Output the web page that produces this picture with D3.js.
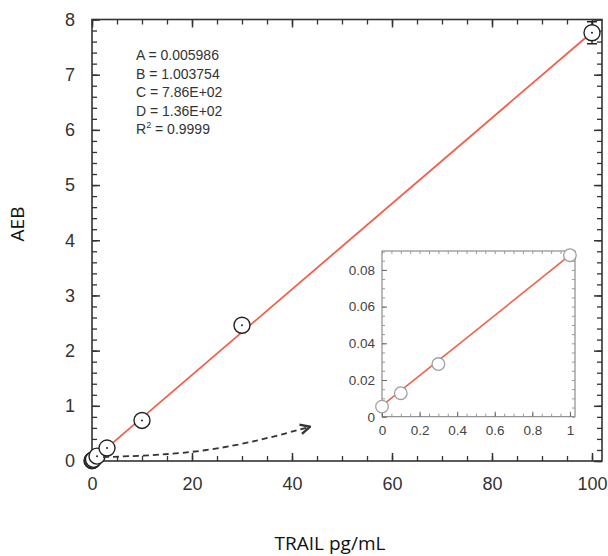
<!DOCTYPE html>
<html>
<head>
<meta charset="utf-8">
<script src="https://cdn.jsdelivr.net/npm/d3@7"></script>
<style>
  body { margin: 0; background: #fff; }
  svg { display: block; }
</style>
</head>
<body>
<div id="chart"></div>
<script>
// standard curve data (TRAIL pg/mL vs AEB)
var conc = [0, 0.1, 0.3, 1, 3, 10, 30, 100];
var aeb = [0.0055, 0.0128, 0.0287, 0.088, 0.235, 0.735, 2.46, 7.76];
var aebErr = [0, 0, 0, 0, 0, 0, 0, 0.2];

// fitted line
var fitX = [0, 100];
var fitY = [0.006, 7.77];

var insetN = 4; // inset shows the first four standards

var fitText = ["A = 0.005986", "B = 1.003754", "C = 7.86E+02", "D = 1.36E+02"];

var xTicks = [0, 20, 40, 60, 80, 100];
var yTicks = [0, 1, 2, 3, 4, 5, 6, 7, 8];
var insetXTicks = [0, 0.2, 0.4, 0.6, 0.8, 1];
var insetYTicks = [0, 0.02, 0.04, 0.06, 0.08];

// arrow from origin cluster towards inset (data units)
var arrowPts = [[2.2, 0.07], [24, 0.14], [43.6, 0.62]];

var W = 608, H = 556;
var red = "#f25f4a";
var axisCol = "#333";

var svg = d3.select("#chart").append("svg")
  .attr("width", W)
  .attr("height", H)
  .style("font-family", "'Liberation Sans', Arial, sans-serif");

var data = conc.map(function(c, i) {
  return {x: c, y: aeb[i], err: aebErr[i]};
});

// ---- main plot
var x = d3.scaleLinear().domain([0, 102]).range([92, 602]);
var y = d3.scaleLinear().domain([0, 8]).range([461, 19.5]);

function range(a, b, s) {
  return d3.range(Math.round((b - a) / s) + 1).map(function(i) { return +(a + i * s).toFixed(6); });
}

var xMinor = range(0, 100, 5);
var yMinor = range(0, 8, 0.2);

var main = svg.append("g");

function styleAxis(g, col, w) {
  g.select(".domain").remove();
  g.selectAll("line").attr("stroke", col).attr("stroke-width", w);
}

// minor ticks on all sides
main.append("g").attr("transform", "translate(0," + y(0) + ")")
  .call(d3.axisBottom(x).tickValues(xMinor).tickSize(-5).tickFormat(""))
  .call(styleAxis, axisCol, 1.3);
main.append("g").attr("transform", "translate(0," + y(8) + ")")
  .call(d3.axisTop(x).tickValues(xMinor).tickSize(-5).tickFormat(""))
  .call(styleAxis, axisCol, 1.3);
main.append("g").attr("transform", "translate(" + x(0) + ",0)")
  .call(d3.axisLeft(y).tickValues(yMinor).tickSize(-5).tickFormat(""))
  .call(styleAxis, axisCol, 1.3);
main.append("g").attr("transform", "translate(" + x(102) + ",0)")
  .call(d3.axisRight(y).tickValues(yMinor).tickSize(-5).tickFormat(""))
  .call(styleAxis, axisCol, 1.3);

// major ticks with labels
var xAx = main.append("g").attr("transform", "translate(0," + y(0) + ")")
  .call(d3.axisBottom(x).tickValues(xTicks).tickSize(-8).tickPadding(16).tickFormat(d3.format("d")))
  .call(styleAxis, axisCol, 1.5);
var yAx = main.append("g").attr("transform", "translate(" + x(0) + ",0)")
  .call(d3.axisLeft(y).tickValues(yTicks).tickSize(-8).tickPadding(17).tickFormat(d3.format("d")))
  .call(styleAxis, axisCol, 1.5);
main.append("g").attr("transform", "translate(0," + y(8) + ")")
  .call(d3.axisTop(x).tickValues(xTicks).tickSize(-8).tickFormat(""))
  .call(styleAxis, axisCol, 1.5);
main.append("g").attr("transform", "translate(" + x(102) + ",0)")
  .call(d3.axisRight(y).tickValues(yTicks).tickSize(-8).tickFormat(""))
  .call(styleAxis, axisCol, 1.5);

[xAx, yAx].forEach(function(g) {
  g.selectAll("text").attr("font-size", 18).attr("fill", "#333")
    .attr("font-family", "'Liberation Sans', Arial, sans-serif");
});

// frame
main.append("rect")
  .attr("x", x(0)).attr("y", y(8))
  .attr("width", x(102) - x(0)).attr("height", y(0) - y(8))
  .attr("fill", "none").attr("stroke", axisCol).attr("stroke-width", 1.6);

// fit line
var line = d3.line().x(function(d) { return x(d[0]); }).y(function(d) { return y(d[1]); });
main.append("path")
  .datum(fitX.map(function(v, i) { return [v, fitY[i]]; }))
  .attr("d", line)
  .attr("fill", "none").attr("stroke", red).attr("stroke-width", 1.8);

// error bars
var eb = main.selectAll(".eb").data(data.filter(function(d) { return d.err > 0; }))
  .enter().append("g").attr("class", "eb");
eb.append("line")
  .attr("x1", function(d) { return x(d.x); }).attr("x2", function(d) { return x(d.x); })
  .attr("y1", function(d) { return y(d.y - d.err); }).attr("y2", function(d) { return y(d.y + d.err); })
  .attr("stroke", "#222").attr("stroke-width", 1.3);
[-1, 1].forEach(function(s) {
  eb.append("line")
    .attr("x1", function(d) { return x(d.x) - 5; }).attr("x2", function(d) { return x(d.x) + 5; })
    .attr("y1", function(d) { return y(d.y + s * d.err); }).attr("y2", function(d) { return y(d.y + s * d.err); })
    .attr("stroke", "#222").attr("stroke-width", 1.5);
});

// points
var pts = main.selectAll(".pt").data(data).enter().append("g").attr("class", "pt");
pts.append("circle")
  .attr("cx", function(d) { return x(d.x); })
  .attr("cy", function(d) { return y(d.y); })
  .attr("r", 8)
  .attr("fill", "#fff").attr("stroke", "#222").attr("stroke-width", 1.4);
pts.append("circle")
  .attr("cx", function(d) { return x(d.x); })
  .attr("cy", function(d) { return y(d.y); })
  .attr("r", 1)
  .attr("fill", "#222");

// fit parameters
var ann = main.append("g").attr("fill", "#333").attr("font-size", 14);
fitText.forEach(function(t, i) {
  ann.append("text").attr("x", 136).attr("y", 60 + i * 18.5).text(t);
});
var r2 = ann.append("text").attr("x", 136).attr("y", 60 + 4 * 18.5);
r2.append("tspan").text("R");
r2.append("tspan").attr("font-size", 9).attr("dy", -6).text("2");
r2.append("tspan").attr("dy", 6).text(" = 0.9999");

// dashed arrow
svg.append("defs").append("marker")
  .attr("id", "arr").attr("viewBox", "0 0 10 10")
  .attr("refX", 9).attr("refY", 5)
  .attr("markerWidth", 12).attr("markerHeight", 12)
  .attr("markerUnits", "userSpaceOnUse")
  .attr("orient", "auto")
  .append("path").attr("d", "M1,1 L9,5 L1,9")
  .attr("fill", "none").attr("stroke", "#333").attr("stroke-width", 2);

main.append("path")
  .datum(arrowPts)
  .attr("d", d3.line().curve(d3.curveBasis).x(function(d) { return x(d[0]); }).y(function(d) { return y(d[1]); }))
  .attr("fill", "none").attr("stroke", "#333").attr("stroke-width", 1.8)
  .attr("stroke-dasharray", "6,4")
  .attr("marker-end", "url(#arr)");

// axis titles
svg.append("text")
  .attr("transform", "translate(24,224) rotate(-90)")
  .attr("text-anchor", "middle")
  .attr("font-family", "'Open Sans', 'Noto Sans', sans-serif")
  .attr("font-size", 19).attr("fill", "#111")
  .text("AEB");
svg.append("text")
  .attr("x", 330).attr("y", 550)
  .attr("text-anchor", "middle")
  .attr("font-family", "'Open Sans', 'Noto Sans', sans-serif")
  .attr("font-size", 19).attr("fill", "#111")
  .text("TRAIL pg/mL");

// ---- inset
var ix = d3.scaleLinear().domain([0, 1.027]).range([382, 575]);
var iy = d3.scaleLinear().domain([0, 0.0903]).range([416.7, 251]);
var inset = svg.append("g");
var insetCol = "#999";

inset.append("rect")
  .attr("x", ix(0)).attr("y", iy(0.0903))
  .attr("width", ix(1.027) - ix(0)).attr("height", iy(0) - iy(0.0903))
  .attr("fill", "#fff").attr("stroke", "#777").attr("stroke-width", 1);

var ixMinor = range(0, 1, 0.05);
var iyMinor = range(0, 0.09, 0.005);

function insetAxis(g, col) {
  g.select(".domain").remove();
  g.selectAll("line").attr("stroke", col).attr("stroke-width", 1);
}

inset.append("g").attr("transform", "translate(0," + iy(0) + ")")
  .call(d3.axisBottom(ix).tickValues(ixMinor).tickSize(-3).tickFormat(""))
  .call(insetAxis, insetCol);
inset.append("g").attr("transform", "translate(0," + iy(0.0903) + ")")
  .call(d3.axisTop(ix).tickValues(ixMinor).tickSize(-3).tickFormat(""))
  .call(insetAxis, insetCol);
inset.append("g").attr("transform", "translate(" + ix(0) + ",0)")
  .call(d3.axisLeft(iy).tickValues(iyMinor).tickSize(-3).tickFormat(""))
  .call(insetAxis, insetCol);
inset.append("g").attr("transform", "translate(" + ix(1.027) + ",0)")
  .call(d3.axisRight(iy).tickValues(iyMinor).tickSize(-3).tickFormat(""))
  .call(insetAxis, insetCol);

var ixAx = inset.append("g").attr("transform", "translate(0," + iy(0) + ")")
  .call(d3.axisBottom(ix).tickValues(insetXTicks).tickSize(-5).tickPadding(9).tickFormat(d3.format("~g")))
  .call(insetAxis, "#666");
var iyAx = inset.append("g").attr("transform", "translate(" + ix(0) + ",0)")
  .call(d3.axisLeft(iy).tickValues(insetYTicks).tickSize(-5).tickPadding(7).tickFormat(d3.format("~g")))
  .call(insetAxis, "#666");
[ixAx, iyAx].forEach(function(g) {
  g.selectAll("text").attr("font-size", 13.5).attr("fill", "#444")
    .attr("font-family", "'Liberation Sans', Arial, sans-serif");
});

var insetData = data.slice(0, insetN);
inset.append("path")
  .datum([[0, fitY[0]], [1, insetData[insetN - 1].y]])
  .attr("d", d3.line().x(function(d) { return ix(d[0]); }).y(function(d) { return iy(d[1]); }))
  .attr("fill", "none").attr("stroke", red).attr("stroke-width", 1.6);

inset.selectAll(".ipt").data(insetData).enter().append("circle")
  .attr("cx", function(d) { return ix(d.x); })
  .attr("cy", function(d) { return iy(d.y); })
  .attr("r", 6.3)
  .attr("fill", "#fff").attr("stroke", "#a0a0a0").attr("stroke-width", 1.3);
</script>
</body>
</html>
